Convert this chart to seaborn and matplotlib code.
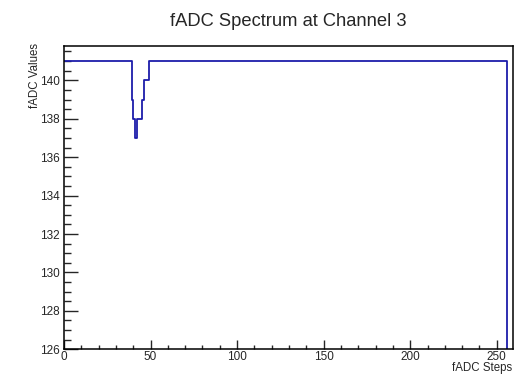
import numpy as np
import pandas as pd
import matplotlib
matplotlib.use("Agg")
import matplotlib.pyplot as plt
import seaborn as sns
from matplotlib.ticker import MultipleLocator

sns.set_style("ticks")
plt.rcParams["font.family"] = ["Liberation Sans", "DejaVu Sans"]

# step edges (fADC step where the value changes) and value held from that edge
step_edges = [0, 39, 40, 41, 42, 45, 46, 49, 256, 259]
step_values = [141, 139, 138, 137, 138, 139, 140, 141, 0]

df = pd.DataFrame({"step": step_edges, "value": step_values + [step_values[-1]]})

fig = plt.figure(figsize=(5.26, 3.75), dpi=100)
ax = fig.add_axes([64 / 526, 1 - 349.3 / 375, (512.7 - 64) / 526, (349.3 - 45.7) / 375])

sns.lineplot(data=df, x="step", y="value", drawstyle="steps-post",
             color="#1c1caa", linewidth=1.3, ax=ax)

ax.set_xlim(0, 259.2)
ax.set_ylim(126, 141.8)
ax.xaxis.set_major_locator(MultipleLocator(50))
ax.xaxis.set_minor_locator(MultipleLocator(10))
ax.yaxis.set_major_locator(MultipleLocator(2))
ax.yaxis.set_minor_locator(MultipleLocator(0.5))

ax.tick_params(axis="x", which="major", direction="in", length=6.5, width=1, labelsize=8.5, pad=1.5)
ax.tick_params(axis="x", which="minor", direction="in", length=3.2, width=1)
ax.tick_params(axis="y", which="major", direction="in", length=10, width=1, labelsize=8.5, pad=3)
ax.tick_params(axis="y", which="minor", direction="in", length=5, width=1)

for s in ax.spines.values():
    s.set_linewidth(1.1)
    s.set_color("black")

ax.set_xlabel("")
ax.set_ylabel("")
fig.text(0.5477, 1 - 22 / 375, "fADC Spectrum at Channel 3", ha="center", va="center", fontsize=13.2)
fig.text(35 / 526, 1 - 43 / 375, "fADC Values", rotation=90, ha="center", va="top", fontsize=8.3)
fig.text(512 / 526, 1 - 374.5 / 375, "fADC Steps", ha="right", va="bottom", fontsize=8.3)

fig.savefig("out.png", dpi=100)
